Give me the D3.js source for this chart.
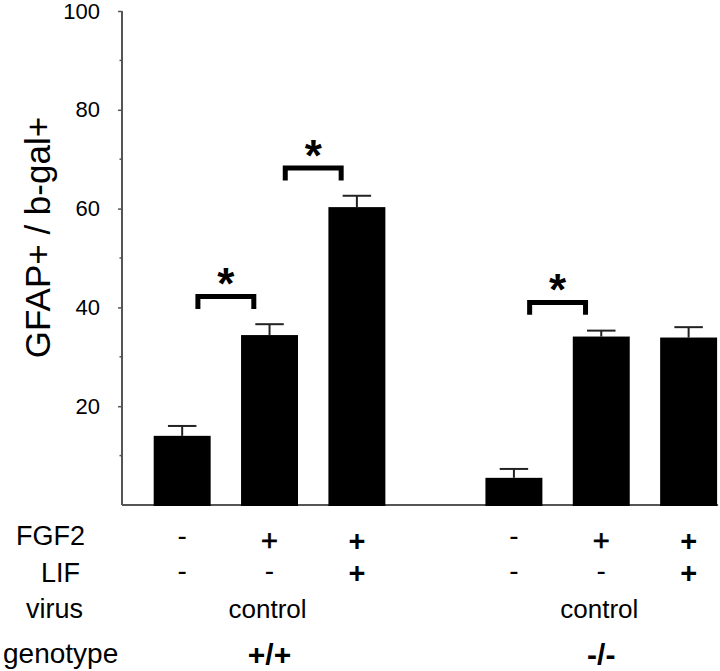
<!DOCTYPE html>
<html lang="en">
<head>
    <meta charset="UTF-8">
    <title>GFAP+ / b-gal+</title>
    <script src="https://d3js.org/d3.v7.min.js"></script>
    <style>
        body { margin: 0; background: #fff; }
        svg { display: block; }
        text { font-family: "Liberation Sans", Arial, Helvetica, sans-serif; fill: #000; }
    </style>
</head>
<body>
<svg width="720" height="671"></svg>

<script>
    // data
    const genotypes = ["+/+", "-/-"];
    const conditions = ["none", "FGF2", "FGF2+LIF"];
    const meansWT = [14.0, 34.4, 60.3];
    const meansKO = [5.5, 34.1, 33.9];
    const semWT = [2.0, 2.2, 2.3];
    const semKO = [1.8, 1.2, 2.1];
    const fgf2Row = ["-", "+", "+"];
    const lifRow = ["-", "-", "+"];
    const virusRow = ["control", "control"];
    const yTicks = [20, 40, 60, 80, 100];
    const yMinorTicks = [10, 30, 50, 70, 90];
    // significance brackets: genotype, from condition, to condition, bracket height
    const sigGeno = ["+/+", "+/+", "-/-"];
    const sigFrom = [0, 1, 0];
    const sigTo = [1, 2, 1];
    const sigLevel = [42.7, 68.7, 41.5];

    const svg = d3.select("svg");

    const y = d3.scaleLinear().domain([0, 100]).range([505, 11]);
    const xGroup = d3.scaleBand().domain(genotypes).range([138.5, 732.3]).paddingInner(0.21).paddingOuter(0);
    const xCond = d3.scaleBand().domain(d3.range(conditions.length)).range([0, xGroup.bandwidth()])
        .paddingInner(0.348).paddingOuter(0.174);
    const cx = (g, i) => xGroup(g) + xCond(i) + xCond.bandwidth() / 2;

    const bars = [];
    genotypes.forEach(function (g, gi) {
        const m = gi === 0 ? meansWT : meansKO;
        const s = gi === 0 ? semWT : semKO;
        conditions.forEach(function (c, i) {
            bars.push({g: g, i: i, mean: m[i], sem: s[i]});
        });
    });

    // baseline
    svg.append("line")
        .attr("x1", 122).attr("x2", cx(genotypes[1], 2) + xCond.bandwidth() / 2 + 1)
        .attr("y1", y(0)).attr("y2", y(0))
        .attr("stroke", "#555").attr("stroke-width", 2);

    // y axis
    const yAxis = d3.axisLeft(y).tickValues(yTicks).tickSize(4).tickPadding(18);
    const ag = svg.append("g").attr("transform", "translate(122,0)").call(yAxis);
    ag.select(".domain").attr("stroke", "#555").attr("stroke-width", 2).attr("d", "M0," + y(100) + "V" + y(0));
    ag.selectAll(".tick line").attr("stroke", "#555").attr("stroke-width", 1.5);
    ag.selectAll(".tick text").style("font-size", "22px").attr("fill", "#111");
    ag.selectAll(".minor").data(yMinorTicks).enter().append("line")
        .attr("x1", -2.5).attr("x2", 0)
        .attr("y1", d => y(d)).attr("y2", d => y(d))
        .attr("stroke", "#555").attr("stroke-width", 1.5);

    svg.append("text")
        .attr("transform", "translate(50," + 237.5 + ") rotate(-90)")
        .attr("text-anchor", "middle")
        .style("font-size", "35px")
        .text("GFAP+ / b-gal+");

    // error bars
    const eg = svg.append("g").attr("stroke", "#222").attr("stroke-width", 2);
    eg.selectAll(".stem").data(bars).enter().append("line")
        .attr("x1", d => cx(d.g, d.i)).attr("x2", d => cx(d.g, d.i))
        .attr("y1", d => y(d.mean)).attr("y2", d => y(d.mean + d.sem));
    eg.selectAll(".cap").data(bars).enter().append("line")
        .attr("x1", d => cx(d.g, d.i) - xCond.bandwidth() / 4)
        .attr("x2", d => cx(d.g, d.i) + xCond.bandwidth() / 4)
        .attr("y1", d => y(d.mean + d.sem)).attr("y2", d => y(d.mean + d.sem));

    // bars
    svg.append("g").selectAll("rect").data(bars).enter().append("rect")
        .attr("x", d => xGroup(d.g) + xCond(d.i))
        .attr("width", xCond.bandwidth())
        .attr("y", d => y(d.mean))
        .attr("height", d => y(0) - y(d.mean) + 1)
        .attr("fill", "#000");

    // significance brackets and stars
    const inset = xCond.step() * 0.18;
    sigGeno.forEach(function (g, k) {
        const x1 = cx(g, sigFrom[k]) + inset;
        const x2 = cx(g, sigTo[k]) - inset;
        const top = y(sigLevel[k]);
        const leg = y(sigLevel[k] - 3);
        svg.append("path")
            .attr("d", "M" + x1 + "," + leg + "V" + (top + 2.5) + "H" + x2 + "V" + leg)
            .attr("fill", "none").attr("stroke", "#000").attr("stroke-width", 5)
            .attr("stroke-linejoin", "miter").attr("stroke-linecap", "butt");
        svg.append("text")
            .attr("x", (x1 + x2) / 2)
            .attr("y", top - 21 + 26)
            .attr("text-anchor", "middle")
            .style("font-size", "44px").style("font-weight", "bold")
            .text("*");
    });

    // table under the chart
    const rowLabels = [
        {t: "FGF2", x: 85, y: 545, size: 27, anchor: "end"},
        {t: "LIF", x: 80, y: 582, size: 27, anchor: "end"},
        {t: "virus", x: 83, y: 618, size: 27, anchor: "end"},
        {t: "genotype", x: 3, y: 663, size: 28, anchor: "start"}
    ];
    svg.selectAll(".rowlab").data(rowLabels).enter().append("text")
        .attr("x", d => d.x).attr("y", d => d.y)
        .attr("text-anchor", d => d.anchor)
        .style("font-size", d => d.size + "px")
        .text(d => d.t);

    // "+" / "-" marks, y given as the visual centre of the glyph
    function signRow(row, plusY, minusY) {
        genotypes.forEach(function (g) {
            row.forEach(function (s, i) {
                const plus = s === "+";
                const bold = plus && lifRow[i] === "+";
                svg.append("text")
                    .attr("x", cx(g, i))
                    .attr("y", plus ? plusY + 10.3 : minusY + 7.5)
                    .attr("text-anchor", "middle")
                    .style("font-size", plus ? "29px" : "28px")
                    .style("font-weight", bold ? "bold" : "normal")
                    .attr("stroke", plus && !bold ? "#000" : "none")
                    .attr("stroke-width", 0.7)
                    .text(s);
            });
        });
    }
    signRow(fgf2Row, 541, 537);
    signRow(lifRow, 573, 572);

    genotypes.forEach(function (g, gi) {
        const mid = cx(g, 1);
        svg.append("text")
            .attr("x", mid - 2).attr("y", 618)
            .attr("text-anchor", "middle")
            .style("font-size", "26px")
            .text(virusRow[gi]);
        svg.append("text")
            .attr("x", mid).attr("y", 665)
            .attr("text-anchor", "middle")
            .style("font-size", "30px").style("font-weight", "bold")
            .text(g);
    });
</script>
</body>
</html>
